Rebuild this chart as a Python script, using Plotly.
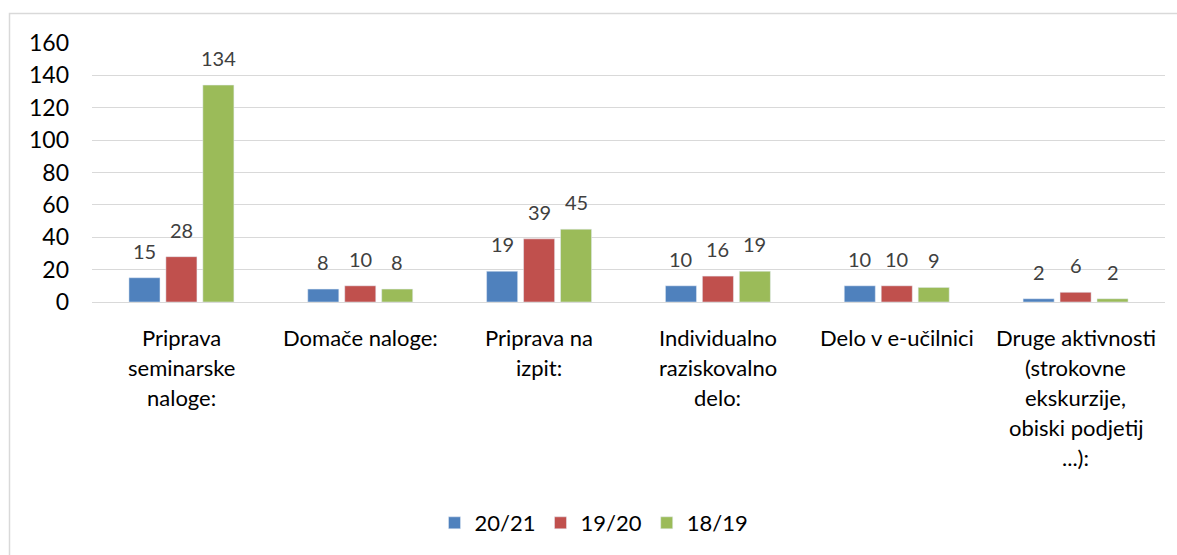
import plotly.graph_objects as go

categories = [
    "Priprava<br>seminarske<br>naloge:",
    "Domače naloge:",
    "Priprava na<br>izpit:",
    "Individualno<br>raziskovalno<br>delo:",
    "Delo v e-učilnici",
    "Druge aktivnosti<br>(strokovne<br>ekskurzije,<br>obiski podjetij<br>...):",
]
series_names = ["20/21", "19/20", "18/19"]
v_2021 = [15, 8, 19, 10, 10, 2]
v_1920 = [28, 10, 39, 16, 10, 6]
v_1819 = [134, 8, 45, 19, 9, 2]
colors = ["#4F81BD", "#C0504D", "#9BBB59"]
y_ticks = [0, 20, 40, 60, 80, 100, 120, 140, 160]

FONT = "Lato"
W, H = 1177, 555
L, R, T, B = 92, 12, 43, 253
pw, ph = W - L - R, H - T - B
BARGAP, GROUPGAP = 0.38, 0.16

def px(x):
    return (x - L) / pw

def py(y):
    return (H - B - y) / ph

fig = go.Figure()
series = [v_2021, v_1920, v_1819]
for name, vals, c in zip(series_names, series, colors):
    fig.add_trace(go.Bar(x=categories, y=vals, name=name, marker_color=c, hoverinfo="skip"))

annotations = []
# data labels above bars
slot = pw / len(categories) * (1 - BARGAP) / len(series)
for i, vals in enumerate(series):
    for cat, v in zip(categories, vals):
        annotations.append(dict(x=cat, y=v, xref="x", yref="y", text=str(v), showarrow=False,
                                xanchor="center", yanchor="bottom", xshift=(i - 1) * slot, yshift=13,
                                font=dict(family=FONT, size=20, color="#404040")))
# category labels, one line each
for cat in categories:
    for j, line in enumerate(cat.split("<br>")):
        annotations.append(dict(x=cat, y=0, xref="x", yref="y", text=line, showarrow=False,
                                xanchor="center", yanchor="middle", yshift=-35 - 30 * j,
                                font=dict(family=FONT, size=22, color="#000000")))

fig.update_layout(
    width=W, height=H,
    margin=dict(l=L, r=R, t=T, b=B, autoexpand=False),
    paper_bgcolor="white", plot_bgcolor="white",
    barmode="group", bargap=BARGAP, bargroupgap=GROUPGAP,
    font=dict(family=FONT, color="#000000"),
    showlegend=True,
    legend=dict(orientation="h", x=px(594), xanchor="center", y=py(523), yanchor="middle",
                font=dict(family=FONT, size=22, color="#000000"),
                itemwidth=30, traceorder="normal"),
    xaxis=dict(showgrid=False, showline=False, ticks="", automargin=False, showticklabels=False),
    yaxis=dict(range=[0, 160], tickvals=y_ticks, showgrid=True, gridcolor="#D9D9D9", gridwidth=1,
               zeroline=True, zerolinecolor="#D9D9D9", zerolinewidth=1, showline=False, automargin=False,
               tickfont=dict(family=FONT, size=23, color="#000000"), ticks="", ticklen=0,
               ticklabelstandoff=22),
    annotations=annotations,
    shapes=[dict(type="rect", xref="paper", yref="paper", x0=px(9.5), x1=px(1185), y0=py(570), y1=py(13.5),
                 line=dict(color="#D9D9D9", width=1.5), fillcolor="rgba(0,0,0,0)", layer="below")],
)
fig.write_html("out.html", config={"displayModeBar": False},
               post_script="document.body.style.margin='0';document.body.style.padding='0';document.body.style.overflow='hidden';")
